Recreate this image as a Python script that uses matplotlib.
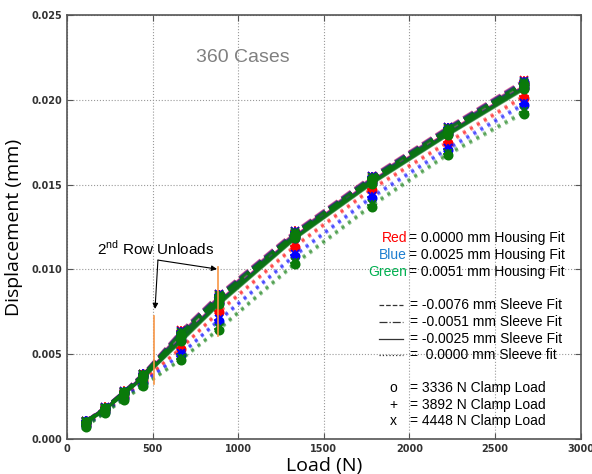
import matplotlib
matplotlib.use('Agg')
import matplotlib.pyplot as plt
import matplotlib.ticker as mticker
import numpy as np

# Load steps (N)
loads = [111, 222, 334, 445, 667, 890, 1334, 1779, 2224, 2669]

housing_names = ['Red', 'Blue', 'Green']
housing_fits = ['0.0000', '0.0025', '0.0051']
sleeve_fits = ['-0.0076', '-0.0051', '-0.0025', ' 0.0000']
clamp_loads = [3336, 3892, 4448]

# displacement in micrometres; rows = housing (red, blue, green) x clamp (3336, 3892, 4448)
disp_sleeve_m0076 = [
    [1.05, 1.85, 2.80, 3.82, 6.30, 8.48, 12.20, 15.43, 18.32, 21.07],
    [1.06, 1.86, 2.81, 3.84, 6.35, 8.52, 12.24, 15.47, 18.36, 21.11],
    [1.07, 1.87, 2.83, 3.86, 6.40, 8.57, 12.28, 15.51, 18.40, 21.16],
    [1.04, 1.84, 2.79, 3.80, 6.27, 8.44, 12.16, 15.40, 18.29, 21.03],
    [1.05, 1.85, 2.80, 3.82, 6.32, 8.49, 12.20, 15.44, 18.33, 21.08],
    [1.06, 1.86, 2.82, 3.85, 6.37, 8.54, 12.25, 15.48, 18.37, 21.13],
    [1.02, 1.82, 2.76, 3.77, 6.20, 8.37, 12.10, 15.34, 18.22, 20.96],
    [1.03, 1.83, 2.78, 3.79, 6.25, 8.42, 12.14, 15.38, 18.27, 21.01],
    [1.04, 1.84, 2.79, 3.81, 6.30, 8.47, 12.18, 15.42, 18.31, 21.05],
]
disp_sleeve_m0051 = [
    [1.02, 1.82, 2.76, 3.77, 6.14, 8.33, 12.08, 15.30, 18.18, 20.93],
    [1.03, 1.83, 2.77, 3.79, 6.19, 8.38, 12.12, 15.34, 18.22, 20.97],
    [1.04, 1.84, 2.79, 3.81, 6.24, 8.42, 12.16, 15.38, 18.26, 21.02],
    [1.01, 1.81, 2.75, 3.75, 6.10, 8.29, 12.04, 15.27, 18.15, 20.89],
    [1.02, 1.82, 2.76, 3.77, 6.15, 8.34, 12.08, 15.31, 18.19, 20.94],
    [1.03, 1.83, 2.78, 3.79, 6.20, 8.38, 12.12, 15.35, 18.23, 20.98],
    [0.99, 1.79, 2.72, 3.72, 6.03, 8.22, 11.98, 15.21, 18.09, 20.83],
    [1.00, 1.80, 2.74, 3.74, 6.08, 8.27, 12.02, 15.25, 18.13, 20.87],
    [1.01, 1.81, 2.75, 3.76, 6.13, 8.31, 12.06, 15.29, 18.17, 20.92],
]
disp_sleeve_m0025 = [
    [0.98, 1.77, 2.69, 3.67, 5.86, 8.06, 11.92, 15.14, 18.00, 20.72],
    [0.99, 1.78, 2.70, 3.69, 5.91, 8.11, 11.96, 15.18, 18.04, 20.77],
    [1.00, 1.79, 2.72, 3.71, 5.96, 8.15, 12.00, 15.22, 18.08, 20.81],
    [0.97, 1.76, 2.67, 3.65, 5.82, 8.02, 11.88, 15.10, 17.96, 20.68],
    [0.98, 1.77, 2.69, 3.67, 5.87, 8.07, 11.92, 15.14, 18.00, 20.73],
    [0.99, 1.78, 2.70, 3.69, 5.92, 8.11, 11.96, 15.18, 18.04, 20.77],
    [0.95, 1.74, 2.65, 3.62, 5.76, 7.96, 11.83, 15.05, 17.92, 20.63],
    [0.96, 1.75, 2.66, 3.64, 5.81, 8.01, 11.87, 15.09, 17.96, 20.68],
    [0.97, 1.76, 2.68, 3.66, 5.86, 8.05, 11.91, 15.13, 18.00, 20.72],
]
disp_sleeve_0000 = [
    [0.84, 1.64, 2.49, 3.42, 5.32, 7.47, 11.33, 14.68, 17.43, 20.13],
    [0.86, 1.66, 2.52, 3.45, 5.37, 7.53, 11.39, 14.74, 17.49, 20.20],
    [0.88, 1.68, 2.54, 3.48, 5.41, 7.58, 11.45, 14.80, 17.55, 20.26],
    [0.79, 1.59, 2.41, 3.28, 4.97, 6.97, 10.80, 14.19, 17.05, 19.68],
    [0.80, 1.60, 2.43, 3.31, 5.02, 7.03, 10.86, 14.26, 17.12, 19.75],
    [0.82, 1.62, 2.45, 3.34, 5.06, 7.08, 10.92, 14.32, 17.18, 19.82],
    [0.72, 1.53, 2.32, 3.10, 4.66, 6.44, 10.30, 13.70, 16.73, 19.19],
    [0.74, 1.55, 2.34, 3.13, 4.71, 6.50, 10.37, 13.77, 16.80, 19.26],
    [0.76, 1.57, 2.36, 3.16, 4.75, 6.55, 10.43, 13.83, 16.86, 19.33],
]

# "2nd row unloads" markers (load N, displacement mm)
unload_loads = [508, 882]
unload_low = [0.00324, 0.00607]
unload_high = [0.00725, 0.01014]

colors = ['#ff0000', '#0000ff', '#0a7a0a']
markers = ['o', '+', 'x']
marker_sizes = [6, 7, 6]

fig = plt.figure(figsize=(5.92, 4.74), dpi=100)
ax = fig.add_axes([0.1132, 0.0738, 0.8677, 0.8945])

# housing colour outer so green ends up on top; dotted (zero sleeve fit) first
groups = [(disp_sleeve_0000, ':', 0.35), (disp_sleeve_m0076, '--', 0.5),
          (disp_sleeve_m0051, '-.', 0.5), (disp_sleeve_m0025, '-', 0.6)]
for h in range(3):
    for data, ls, alpha in groups:
        a = alpha if (h == 2 or ls == ':') else alpha * 0.7
        for c in range(3):
            y = np.array(data[h * 3 + c]) / 1000.0
            ax.plot(loads, y, linestyle=ls, color=colors[h], linewidth=2.2, alpha=a)
            ax.plot(loads, y, linestyle='none', marker=markers[c], color=colors[h],
                    markersize=marker_sizes[c], markeredgewidth=1.2)

# orange unload lines
for xl, lo, hi in zip(unload_loads, unload_low, unload_high):
    ax.plot([xl, xl], [lo, hi], color='#f79646', linewidth=1.2)

ax.set_xlim(0, 3000)
ax.set_ylim(0, 0.025)
ax.xaxis.set_major_locator(mticker.MultipleLocator(500))
ax.yaxis.set_major_locator(mticker.MultipleLocator(0.005))
ax.yaxis.set_major_formatter(mticker.FormatStrFormatter('%.3f'))
ax.grid(True, linestyle=':', color='#999999', linewidth=0.8)
ax.tick_params(direction='in', top=True, right=True, length=4, labelsize=7,
               labelcolor='#333333', colors='#555555')
for lab in ax.get_xticklabels() + ax.get_yticklabels():
    lab.set_fontweight('bold')
for sp in ax.spines.values():
    sp.set_color('#555555')
    sp.set_linewidth(1.2)

ax.set_xlabel('Load (N)', fontsize=14, family='Open Sans', labelpad=2)
ax.set_ylabel('Displacement (mm)', fontsize=14, family='Open Sans', labelpad=6)

ax.text(0.343, 0.899, '360 Cases', transform=ax.transAxes, fontsize=14,
        family='Liberation Sans', color='#808080', ha='center', va='center')

# annotation
plt.rcParams['mathtext.fontset'] = 'custom'
plt.rcParams['mathtext.rm'] = 'Liberation Sans'
ax.text(175, 0.01122, r'2$^{\mathrm{nd}}$ Row Unloads', fontsize=11, family='Liberation Sans',
        ha='left', va='center')
for tx, ty in [(514, 0.00767), (876, 0.01002)]:
    ax.annotate('', xy=(tx, ty), xytext=(531, 0.01055),
                arrowprops=dict(arrowstyle='-|>', color='black', lw=0.8,
                                mutation_scale=8, shrinkA=0, shrinkB=0))

# hand-made legend
lf = 'Liberation Sans'
text_colors = ['#ff0000', '#1f7fd0', '#00b050']
for i, (name, fit) in enumerate(zip(housing_names, housing_fits)):
    yy = 0.474 - i * 0.040
    ax.text(0.662, yy, name, transform=ax.transAxes, color=text_colors[i],
            fontsize=10, family=lf, ha='right', va='center')
    ax.text(0.666, yy, '= %s mm Housing Fit' % fit, transform=ax.transAxes,
            fontsize=10, family=lf, ha='left', va='center')

sleeve_styles = ['--', '-.', '-', ':']
for i, (fit, ls) in enumerate(zip(sleeve_fits, sleeve_styles)):
    yy = 0.316 - i * 0.0395
    ax.plot([0.607, 0.654], [yy, yy], transform=ax.transAxes, color='#333333',
            linestyle=ls, linewidth=0.9)
    word = 'fit' if fit.strip() == '0.0000' else 'Fit'
    ax.text(0.667, yy, '= %s mm Sleeve %s' % (fit, word), transform=ax.transAxes,
            fontsize=10, family=lf, ha='left', va='center')

for i, (cl, sym) in enumerate(zip(clamp_loads, ['o', '+', 'x'])):
    yy = 0.120 - i * 0.039
    ax.text(0.635, yy, sym, transform=ax.transAxes, fontsize=10, family=lf,
            ha='center', va='center')
    ax.text(0.667, yy, '= %d N Clamp Load' % cl, transform=ax.transAxes,
            fontsize=10, family=lf, ha='left', va='center')

fig.savefig('out.png', dpi=100)
